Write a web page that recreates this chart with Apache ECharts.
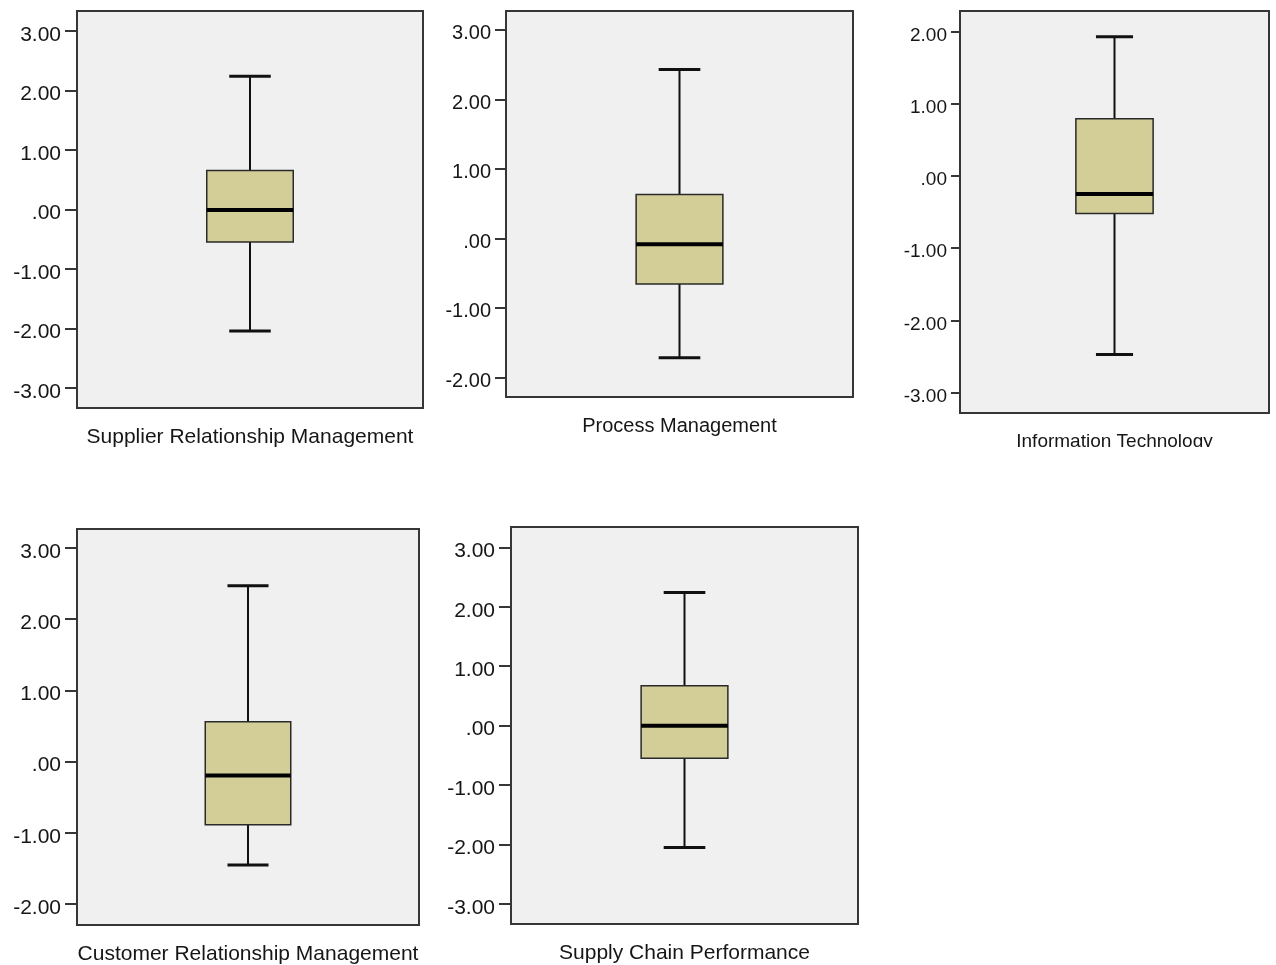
<!DOCTYPE html>
<html>
<head>
<meta charset="utf-8">
<style>
  html, body { margin: 0; padding: 0; background: #ffffff; }
  #chart { width: 1276px; height: 965px; }
</style>
<script src="https://cdn.jsdelivr.net/npm/echarts@6/dist/echarts.min.js"></script>
</head>
<body>
<div id="chart"></div>
<script>
// ---- Data ----
const categories = [
  'Supplier Relationship Management',
  'Process Management',
  'Information Technology',
  'Customer Relationship Management',
  'Supply Chain Performance'
];
// [lower whisker, Q1, median, Q3, upper whisker]
const srmStats = [-2.04, -0.546, -0.01, 0.655, 2.24];
const pmStats  = [-1.72, -0.656, -0.085, 0.63, 2.43];
const itStats  = [-2.47, -0.52, -0.25, 0.79, 1.925];
const crmStats = [-1.45, -0.887, -0.195, 0.56, 2.47];
const scpStats = [-2.05, -0.55, 0.0, 0.67, 2.24];

// tick label values per panel
const srmTicks = [-3, -2, -1, 0, 1, 2, 3];
const pmTicks  = [-2, -1, 0, 1, 2, 3];
const itTicks  = [-3, -2, -1, 0, 1, 2];
const crmTicks = [-2, -1, 0, 1, 2, 3];
const scpTicks = [-3, -2, -1, 0, 1, 2, 3];

// visible value range of each panel's frame
const srmRange = [-3.336, 3.336];
const pmRange  = [-2.284, 3.273];
const itRange  = [-3.281, 2.281];
const crmRange = [-2.293, 3.267];
const scpRange = [-3.337, 3.342];

const allStats = [srmStats, pmStats, itStats, crmStats, scpStats];
const allTicks = [srmTicks, pmTicks, itTicks, crmTicks, scpTicks];
const allRanges = [srmRange, pmRange, itRange, crmRange, scpRange];

// ---- Layout / style ----
const layout = [
  { left: 77,  top: 11,  width: 346, height: 397, font: 21, margin: 16, xm: 19 },
  { left: 506, top: 11,  width: 347, height: 386, font: 20, margin: 15, xm: 19 },
  { left: 960, top: 11,  width: 309, height: 402, font: 19, margin: 13, xm: 19 },
  { left: 77,  top: 529, width: 342, height: 396, font: 21, margin: 16, xm: 19 },
  { left: 511, top: 527, width: 347, height: 397, font: 21, margin: 16, xm: 19 }
];
const FONT = '"Liberation Sans", Arial, Helvetica, sans-serif';
const FRAME = '#363636';
const BOX_FILL = '#d3ce98';

function fmt(v) {
  if (Math.abs(v) < 1e-9) return '.00';
  return v.toFixed(2);
}

const grids = [], xAxes = [], yAxes = [], series = [];
layout.forEach((L, i) => {
  grids.push({
    left: L.left, top: L.top, width: L.width, height: L.height,
    show: true, backgroundColor: '#f0f0f0',
    borderColor: FRAME, borderWidth: 2, containLabel: false
  });
  xAxes.push({
    type: 'category', gridIndex: i, data: [categories[i]],
    boundaryGap: true,
    axisLine: { show: false },
    axisTick: { show: true, alignWithLabel: true, length: 12,
      lineStyle: { color: FRAME, width: 2 } },
    axisLabel: { show: true, margin: L.xm, color: '#161616',
      fontFamily: FONT, fontSize: L.font, interval: 0 },
    splitLine: { show: false }
  });
  yAxes.push({
    type: 'value', gridIndex: i,
    min: allRanges[i][0], max: allRanges[i][1],
    axisLine: { show: false },
    splitLine: { show: false },
    axisTick: { show: true, length: L.margin - 4, customValues: allTicks[i],
      lineStyle: { color: FRAME, width: 2 } },
    axisLabel: { show: true, customValues: allTicks[i], margin: L.margin,
      color: '#161616', fontFamily: FONT, fontSize: L.font,
      verticalAlign: 'top', lineHeight: 8, formatter: fmt }
  });
  series.push({
    type: 'custom', xAxisIndex: i, yAxisIndex: i,
    data: [[0].concat(allStats[i])],
    encode: { x: 0, y: [1, 2, 3, 4, 5] },
    renderItem: function (params, api) {
      const xi = api.value(0);
      const band = api.size([1, 0])[0];
      const boxHalf = band * 0.125;
      const capHalf = band * 0.06;
      const pMin = api.coord([xi, api.value(1)]);
      const pQ1  = api.coord([xi, api.value(2)]);
      const pMed = api.coord([xi, api.value(3)]);
      const pQ3  = api.coord([xi, api.value(4)]);
      const pMax = api.coord([xi, api.value(5)]);
      const cx = pMed[0];
      const lineStyle = { stroke: '#111', lineWidth: 2 };
      return {
        type: 'group',
        children: [
          { type: 'line', shape: { x1: cx, y1: pMax[1], x2: cx, y2: pQ3[1] }, style: lineStyle },
          { type: 'line', shape: { x1: cx, y1: pQ1[1], x2: cx, y2: pMin[1] }, style: lineStyle },
          { type: 'line', shape: { x1: cx - capHalf, y1: pMax[1], x2: cx + capHalf, y2: pMax[1] },
            style: { stroke: '#111', lineWidth: 3 } },
          { type: 'line', shape: { x1: cx - capHalf, y1: pMin[1], x2: cx + capHalf, y2: pMin[1] },
            style: { stroke: '#111', lineWidth: 3 } },
          { type: 'rect', shape: { x: cx - boxHalf, y: pQ3[1], width: boxHalf * 2, height: pQ1[1] - pQ3[1] },
            style: { fill: BOX_FILL, stroke: '#2a2a2a', lineWidth: 1.5 } },
          { type: 'line', shape: { x1: cx - boxHalf, y1: pMed[1], x2: cx + boxHalf, y2: pMed[1] },
            style: { stroke: '#000', lineWidth: 4 } }
        ]
      };
    }
  });
});

const chart = echarts.init(document.getElementById('chart'), null, { renderer: 'canvas' });
chart.setOption({
  animation: false,
  backgroundColor: '#ffffff',
  grid: grids,
  xAxis: xAxes,
  yAxis: yAxes,
  series: series,
  graphic: [
    // the reference image is cut off just below the third panel's label
    { type: 'rect', left: 930, top: 447, shape: { width: 346, height: 50 },
      style: { fill: '#ffffff' }, z: 100 }
  ]
});
</script>
</body>
</html>
